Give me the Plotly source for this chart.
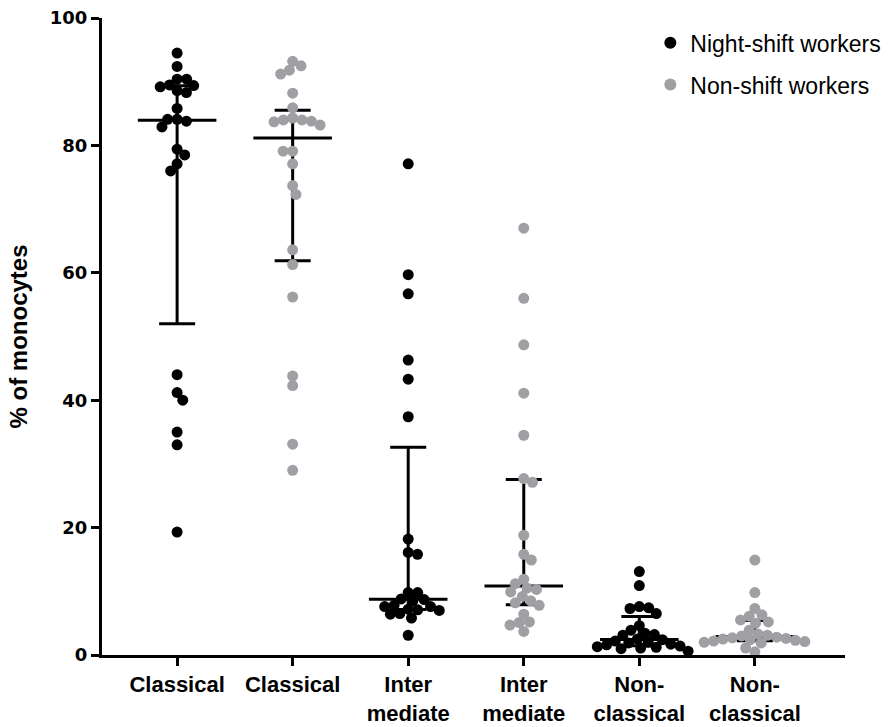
import math
import plotly.graph_objects as go

# ---------------- data ----------------
categories = ["Classical", "Classical", "Inter<br>mediate", "Inter<br>mediate",
              "Non-<br>classical", "Non-<br>classical"]
series_names = ["Night-shift workers", "Non-shift workers"]

night_classical = [94.5, 92.4, 90.4, 90.4, 89.4, 88.6, 88.3, 89.5, 89.2, 85.8, 83.8, 84.1,
                   84.1, 82.9, 79.4, 78.5, 77.1, 76.0, 44.0, 41.2, 40.0, 35.0, 33.0, 19.3]
nonshift_classical = [93.2, 92.5, 91.8, 91.2, 88.2, 85.9, 84.0, 83.8, 84.3, 83.7, 84.0, 83.2,
                      79.1, 79.1, 77.1, 73.7, 72.3, 63.6, 61.3, 56.2, 43.8, 42.3, 33.1, 29.0]
night_intermediate = [77.1, 59.7, 56.7, 46.3, 43.3, 37.4, 18.2, 16.1, 15.8, 9.8, 9.8, 8.5,
                      8.8, 8.7, 7.8, 7.6, 7.1, 7.6, 7.2, 7.0, 6.4, 6.5, 5.8, 3.1]
nonshift_intermediate = [67.0, 56.0, 48.7, 41.1, 34.5, 27.1, 27.7, 18.8, 15.8, 14.9, 11.2, 10.5,
                         11.9, 9.9, 10.3, 9.2, 7.8, 8.2, 8.5, 6.4, 5.2, 4.7, 5.1, 3.7]
night_nonclassical = [13.1, 10.9, 7.6, 7.4, 7.3, 6.5, 4.6, 3.9, 3.4, 3.2, 3.1, 2.5,
                      2.4, 2.2, 2.0, 1.9, 1.7, 1.6, 1.4, 1.3, 1.2, 1.1, 1.0, 0.6]
nonshift_nonclassical = [14.9, 9.8, 7.3, 6.3, 6.1, 5.5, 5.2, 5.0, 3.9, 3.3, 3.1, 3.0,
                         2.8, 2.7, 2.6, 2.5, 2.4, 2.3, 2.2, 2.1, 2.0, 1.9, 1.1, 0.5]

groups = [night_classical, nonshift_classical, night_intermediate,
          nonshift_intermediate, night_nonclassical, nonshift_nonclassical]
group_series = [0, 1, 0, 1, 0, 1]

# ---------------- style / layout ----------------
W, H = 889, 727
ML, MR, MT, MB = 102, 44, 18, 72
XR = [-0.65, 5.78]
YR = [0, 100]
colors = ["#000000", "#a0a0a4"]
MSIZE = 11
px_x = (W - ML - MR) / (XR[1] - XR[0])
px_y = (H - MT - MB) / (YR[1] - YR[0])


def quantile(vals, p):
    s = sorted(vals)
    n = len(s)
    pos = (n + 1) * p
    lo = int(math.floor(pos))
    frac = pos - lo
    lo = max(1, min(n, lo))
    hi = max(1, min(n, lo + 1))
    return s[lo - 1] + frac * (s[hi - 1] - s[lo - 1])


def beeswarm(vals, diam=9.5):
    order = sorted(range(len(vals)), key=lambda k: -vals[k])
    placed = []
    offs = [0.0] * len(vals)
    for k in order:
        y = vals[k] * px_y
        cands = [0.0]
        for (xj, yj) in placed:
            dy = abs(y - yj)
            if dy < diam:
                dx = math.sqrt(diam * diam - dy * dy)
                cands += [xj - dx, xj + dx]
        near = [xj for (xj, yj) in placed if abs(y - yj) < 3 * diam]
        bal = sum(1 if xj > 0 else (-1 if xj < 0 else 0) for xj in near)
        pref = -1 if bal > 0 else 1
        cands.sort(key=lambda c: (round(abs(c), 3), 0 if c * pref >= 0 else 1))
        chosen = 0.0
        for c in cands:
            ok = all((c - xj) ** 2 + (y - yj) ** 2 >= diam * diam - 1e-6 for (xj, yj) in placed)
            if ok:
                chosen = c
                break
        placed.append((chosen, y))
        offs[k] = chosen / px_x
    return offs


fig = go.Figure()

# median + interquartile range
for i, vals in enumerate(groups):
    med = quantile(vals, 0.5)
    q1 = quantile(vals, 0.25)
    q3 = quantile(vals, 0.75)
    fig.add_trace(go.Scatter(
        x=[i], y=[med], mode="markers", marker=dict(size=0.1, color="black"),
        error_y=dict(type="data", symmetric=False, array=[q3 - med], arrayminus=[med - q1],
                     width=18, thickness=3, color="black"),
        showlegend=False, hoverinfo="skip", cliponaxis=False))
    fig.add_trace(go.Scatter(
        x=[i - 0.34, i + 0.34], y=[med, med], mode="lines",
        line=dict(color="black", width=3), showlegend=False, hoverinfo="skip",
        cliponaxis=False))

# points
shown = [False, False]
for i, vals in enumerate(groups):
    s = group_series[i]
    offs = beeswarm(vals)
    fig.add_trace(go.Scatter(
        x=[i + o for o in offs], y=vals, mode="markers",
        marker=dict(size=MSIZE, color=colors[s], line=dict(width=0)),
        name=series_names[s], legendgroup=series_names[s],
        showlegend=not shown[s], cliponaxis=False))
    shown[s] = True

fig.update_layout(
    width=W, height=H, autosize=False,
    margin=dict(l=ML, r=MR, t=MT, b=MB, pad=0, autoexpand=False),
    paper_bgcolor="white", plot_bgcolor="white",
    showlegend=True,
    legend=dict(x=0.738, y=0.995, xanchor="left", yanchor="top",
                font=dict(family="Liberation Sans, Arial", size=23, color="black"),
                tracegroupgap=9, bgcolor="rgba(0,0,0,0)", itemsizing="constant"),
    xaxis=dict(range=XR, tickmode="array", tickvals=list(range(len(categories))),
               ticktext=categories, showline=True, linecolor="black", linewidth=3,
               ticks="outside", ticklen=8, tickwidth=3, tickcolor="black",
               showgrid=False, zeroline=False, automargin=False,
               tickfont=dict(family="Liberation Sans, Arial", size=22, color="black",
                             weight="bold")),
    yaxis=dict(range=YR, tickmode="array", tickvals=[0, 20, 40, 60, 80, 100],
               showline=True, linecolor="black", linewidth=3,
               ticks="outside", ticklen=8, tickwidth=3, tickcolor="black",
               showgrid=False, zeroline=False, automargin=False,
               tickfont=dict(family="DejaVu Sans", size=18, color="black", weight="bold"),
               title=dict(text="% of monocytes", standoff=16,
                          font=dict(family="Liberation Sans, Arial", size=24, color="black",
                                    weight="bold"))),
)

fig.write_html("out.html")
